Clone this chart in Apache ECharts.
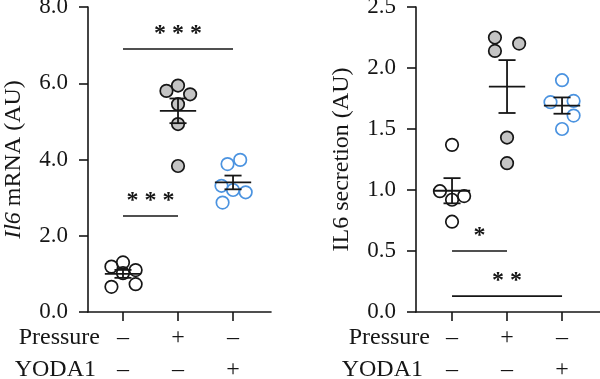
<!DOCTYPE html>
<html>
<head>
<meta charset="utf-8">
<script src="https://cdn.jsdelivr.net/npm/echarts@6/dist/echarts.min.js"></script>
<style>html,body{margin:0;padding:0;background:#fff}#c{width:600px;height:379px}</style>
</head>
<body>
<div id="c"></div>
<script>
// ---- data ----
const groups = [1, 2, 3];
const pressureSigns = ['–', '+', '–'];
const yodaSigns = ['–', '–', '+'];

// Left panel: Il6 mRNA (AU)
const mrnaControl  = [1.19, 1.30, 1.10, 0.66, 1.02, 0.73];
const mrnaPressure = [5.80, 5.94, 5.71, 5.45, 4.93, 3.83];
const mrnaYoda     = [3.88, 3.99, 3.31, 3.20, 3.14, 2.87];
const mrnaControlJitter  = [-0.21, 0.0, 0.23, -0.21, 0.0, 0.23];
const mrnaPressureJitter = [-0.21, 0.0, 0.22, 0.0, 0.0, 0.0];
const mrnaYodaJitter     = [-0.10, 0.13, -0.21, 0.0, 0.23, -0.19];
const mrnaTicks = [0, 2, 4, 6, 8];
const mrnaSig = [ // [fromGroup, toGroup, yValue, label]
  [1, 3, 6.9, '* * *'],
  [1, 2, 2.52, '* * *']
];

// Right panel: IL6 secretion (AU)
const secControl  = [1.37, 0.99, 0.92, 0.95, 0.74];
const secPressure = [2.25, 2.14, 2.20, 1.43, 1.22];
const secYoda     = [1.90, 1.72, 1.73, 1.61, 1.50];
const secControlJitter  = [0.0, -0.22, 0.0, 0.22, 0.0];
const secPressureJitter = [-0.22, -0.22, 0.22, 0.0, 0.0];
const secYodaJitter     = [0.0, -0.21, 0.21, 0.21, 0.0];
const secTicks = [0, 0.5, 1.0, 1.5, 2.0, 2.5];
const secSig = [
  [1, 2, 0.5, '*'],
  [1, 3, 0.13, '* *']
];

// ---- helpers ----
const FONT = 'Liberation Serif';
const INK = '#161616';
const GREY = '#c4c4c4';
const BLUE = '#4b93e0';

function mean(a){ return a.reduce((s,v)=>s+v,0)/a.length; }
function sem(a){ const m=mean(a); const v=a.reduce((s,x)=>s+(x-m)*(x-m),0)/(a.length-1); return Math.sqrt(v/a.length); }
function pts(values, jitter, g){ return values.map((v,i)=>[g + jitter[i], v]); }

function scatter(idx, values, jitter, g, fill, stroke){
  return {
    type: 'scatter', xAxisIndex: idx, yAxisIndex: idx,
    data: pts(values, jitter, g),
    symbol: 'circle', symbolSize: 12.5,
    itemStyle: { color: fill, borderColor: stroke, borderWidth: 1.7, opacity: 1 },
    z: 2, silent: true
  };
}

function meanSem(idx, sets){
  return {
    type: 'custom', xAxisIndex: idx, yAxisIndex: idx, z: 5, silent: true,
    data: sets.map((a,i)=>[groups[i], mean(a), sem(a)]),
    renderItem: function(params, api){
      const x = api.value(0), m = api.value(1), s = api.value(2);
      const c = api.coord([x, m]);
      const hi = api.coord([x, m + s]);
      const lo = api.coord([x, m - s]);
      const mw = api.size([0.33, 0])[0];
      const cw = api.size([0.155, 0])[0];
      const st = { stroke: INK, lineWidth: 1.8 };
      return { type: 'group', children: [
        { type:'line', shape:{x1:c[0]-mw, y1:c[1], x2:c[0]+mw, y2:c[1]}, style: st },
        { type:'line', shape:{x1:c[0], y1:hi[1], x2:c[0], y2:lo[1]}, style: st },
        { type:'line', shape:{x1:c[0]-cw, y1:hi[1], x2:c[0]+cw, y2:hi[1]}, style: st },
        { type:'line', shape:{x1:c[0]-cw, y1:lo[1], x2:c[0]+cw, y2:lo[1]}, style: st }
      ]};
    }
  };
}

function sigSeries(idx, sig){
  return {
    type: 'custom', xAxisIndex: idx, yAxisIndex: idx, z: 6, silent: true,
    data: sig.map(s=>[s[0], s[1], s[2]]),
    renderItem: function(params, api){
      const a = api.coord([api.value(0), api.value(2)]);
      const b = api.coord([api.value(1), api.value(2)]);
      const label = sig[params.dataIndex][3];
      return { type: 'group', children: [
        { type:'line', shape:{x1:a[0], y1:a[1], x2:b[0], y2:b[1]}, style:{ stroke: INK, lineWidth: 1.6 } },
        { type:'text', style:{ text: label, x:(a[0]+b[0])/2, y:a[1]-15, align:'center', verticalAlign:'middle',
          fontFamily: FONT, fontSize: 24, fontWeight: 'bold', fill: INK } }
      ]};
    }
  };
}

function xAxis(idx, min, max){
  return {
    type: 'value', gridIndex: idx, min: min, max: max,
    axisLine: { show: true, onZero: false, lineStyle: { color: INK, width: 1.6 } },
    axisTick: { show: true, length: 9, customValues: groups, lineStyle: { color: INK, width: 1.6 } },
    axisLabel: {
      show: true, customValues: groups, margin: 10,
      formatter: function(v){ const i = groups.indexOf(Math.round(v)); return pressureSigns[i] + '\n' + yodaSigns[i]; },
      fontFamily: FONT, fontSize: 24, color: INK, lineHeight: 32
    },
    splitLine: { show: false }
  };
}

function yAxis(idx, ticks, name){
  return {
    type: 'value', gridIndex: idx, min: ticks[0], max: ticks[ticks.length-1], interval: ticks[1]-ticks[0],
    axisLine: { show: true, lineStyle: { color: INK, width: 1.6 } },
    axisTick: { show: true, length: 9, lineStyle: { color: INK, width: 1.6 } },
    axisLabel: { formatter: v => v.toFixed(1), fontFamily: FONT, fontSize: 23, color: INK, margin: 20 },
    splitLine: { show: false },
    name: name, nameLocation: 'middle', nameGap: 62,
    nameTextStyle: { fontFamily: FONT, fontSize: 24, color: INK,
      rich: { it: { fontFamily: FONT, fontSize: 24, fontStyle: 'italic', color: INK } } }
  };
}

function rowLabel(text, x, y){
  return { type:'text', style:{ text: text, x: x, y: y, align:'right', verticalAlign:'middle',
    fontFamily: FONT, fontSize: 24, fill: INK } };
}

const chart = echarts.init(document.getElementById('c'), null, { renderer: 'canvas' });
chart.setOption({
  animation: false,
  backgroundColor: '#fff',
  grid: [
    { left: 88, top: 7, width: 183, height: 305, containLabel: false, outerBoundsMode: 'none' },
    { left: 416, top: 7, width: 184, height: 305, containLabel: false, outerBoundsMode: 'none' }
  ],
  xAxis: [ xAxis(0, 0.364, 3.69), xAxis(1, 0.345, 3.69) ],
  yAxis: [ yAxis(0, mrnaTicks, '{it|Il6} mRNA (AU)'), yAxis(1, secTicks, 'IL6 secretion (AU)') ],
  graphic: [
    rowLabel('Pressure', 100, 338),
    rowLabel('YODA1', 96, 370),
    rowLabel('Pressure', 430, 338),
    rowLabel('YODA1', 423, 370)
  ],
  series: [
    scatter(0, mrnaControl, mrnaControlJitter, 1, 'rgba(255,255,255,0)', INK),
    scatter(0, mrnaPressure, mrnaPressureJitter, 2, GREY, INK),
    scatter(0, mrnaYoda, mrnaYodaJitter, 3, 'rgba(255,255,255,0)', BLUE),
    meanSem(0, [mrnaControl, mrnaPressure, mrnaYoda]),
    sigSeries(0, mrnaSig),
    scatter(1, secControl, secControlJitter, 1, 'rgba(255,255,255,0)', INK),
    scatter(1, secPressure, secPressureJitter, 2, GREY, INK),
    scatter(1, secYoda, secYodaJitter, 3, 'rgba(255,255,255,0)', BLUE),
    meanSem(1, [secControl, secPressure, secYoda]),
    sigSeries(1, secSig)
  ]
});
</script>
</body>
</html>
